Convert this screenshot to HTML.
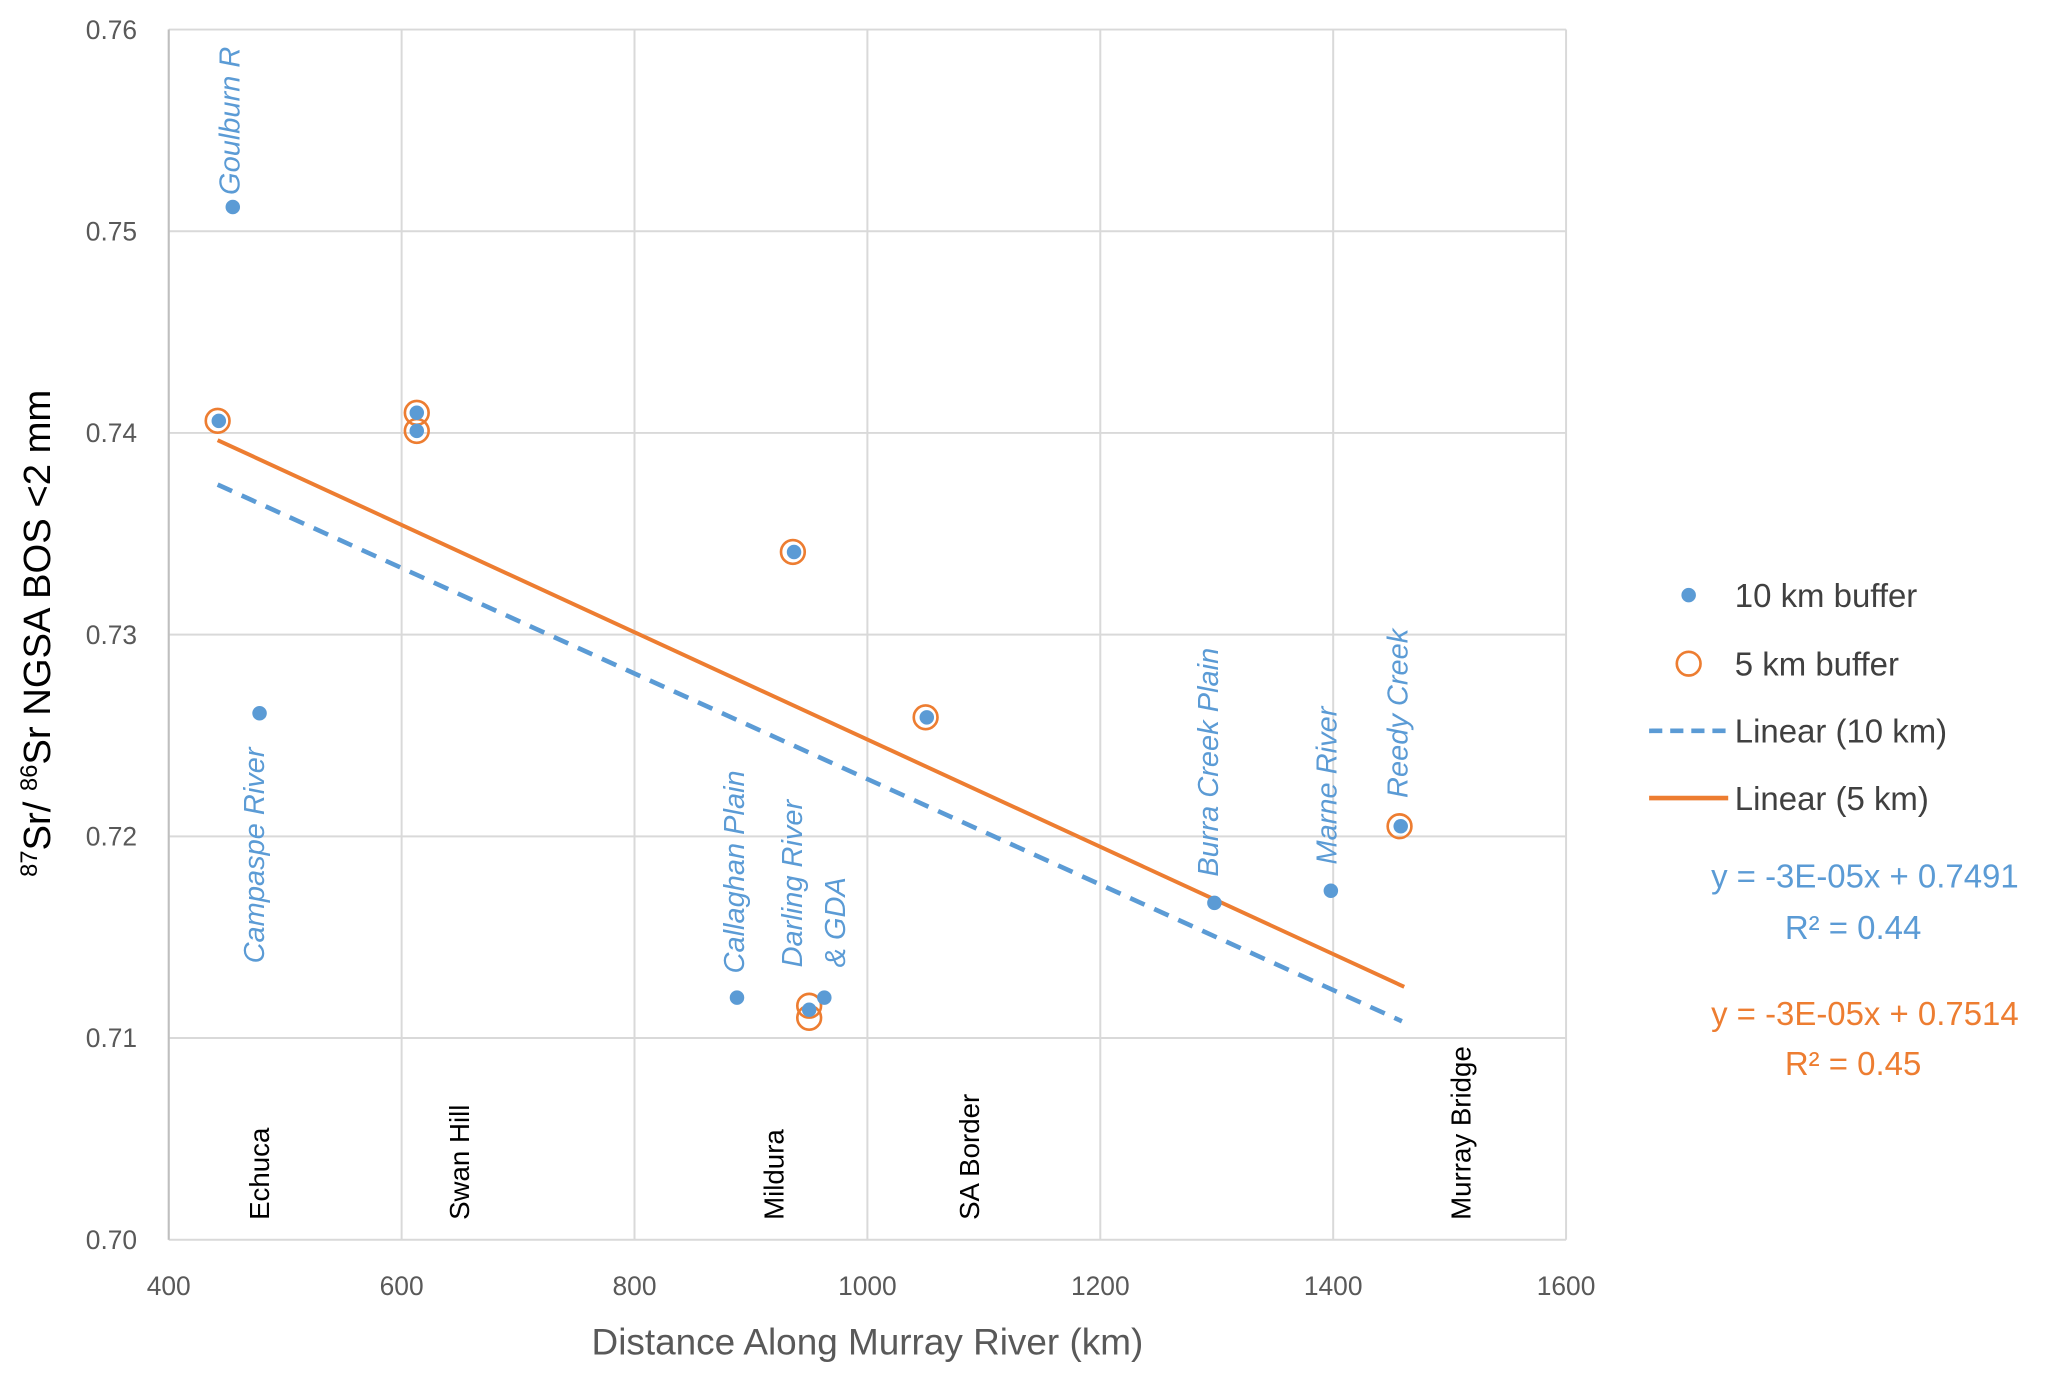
<!DOCTYPE html>
<html><head><meta charset="utf-8"><style>
html,body{margin:0;padding:0;background:#fff}
svg{display:block;font-family:"Liberation Sans","DejaVu Sans",sans-serif}
</style></head><body>
<svg id="chart" width="2067" height="1380" viewBox="0 0 1568 1046" xmlns="http://www.w3.org/2000/svg">
<rect width="1568" height="1046" fill="#fff"/>
<g id="grid"></g>
<g id="ticks" font-size="20" fill="#595959"></g>
<g id="lines"></g>
<g id="pts"></g>
<g id="labels"></g>
<text x="658" y="1027" text-anchor="middle" font-size="28" fill="#595959">Distance Along Murray River (km)</text>
<text transform="translate(38,480) rotate(-90)" text-anchor="middle" font-size="29" fill="#000"><tspan font-size="18" dy="-10">87</tspan><tspan dy="10">Sr/ </tspan><tspan font-size="18" dy="-10">86</tspan><tspan dy="10">Sr NGSA BOS &lt;2 mm</tspan></text>
<g font-size="25" fill="#404040">
<circle cx="1281" cy="451" r="5.5" fill="#5b9bd5"/><text x="1316" y="460">10 km buffer</text>
<circle cx="1281" cy="503" r="9" fill="none" stroke="#ed7d31" stroke-width="2"/><text x="1316" y="512">5 km buffer</text>
<line x1="1251" y1="554" x2="1311" y2="554" stroke="#5b9bd5" stroke-width="3.5" stroke-dasharray="10,6"/><text x="1316" y="563">Linear (10 km)</text>
<line x1="1251" y1="605" x2="1311" y2="605" stroke="#ed7d31" stroke-width="3.5"/><text x="1316" y="614">Linear (5 km)</text>
</g>
<g font-size="25" fill="#5b9bd5"><text x="1298" y="673">y = -3E-05x + 0.7491</text><text x="1354" y="712">R² = 0.44</text></g>
<g font-size="25" fill="#ed7d31"><text x="1298" y="777">y = -3E-05x + 0.7514</text><text x="1354" y="815">R² = 0.45</text></g>
</svg>
<script>
const xTicks=[400,600,800,1000,1200,1400,1600];
const yTicks=[0.70,0.71,0.72,0.73,0.74,0.75,0.76];
const x10=[443,455,478,613,613,937,888,950,963,1051,1298,1398,1458];
const y10=[0.7406,0.7512,0.7261,0.7410,0.7401,0.7341,0.7120,0.7114,0.7120,0.7259,0.7167,0.7173,0.7205];
const x5=[442,613,613,936,950,950,1050,1457];
const y5=[0.7406,0.7410,0.7401,0.7341,0.7116,0.7110,0.7259,0.7205];
const trendX10=[442,1459];
const trend10=[-2.616e-5,0.7490];
const trendX5=[442,1461];
const trend5=[-2.66e-5,0.7514];
const towns=["Echuca","Swan Hill","Mildura","SA Border","Murray Bridge"];
const townX=[478,650,920,1088,1510];
const sites=["Goulburn R","Campaspe River","Callaghan Plain","Darling River","& GDA","Burra Creek Plain","Marne River","Reedy Creek"];
const siteX=[453,474,886,936,973,1293,1395,1456];
const siteY=[0.7518,0.7137,0.7132,0.7135,0.7135,0.7180,0.7186,0.7219];

const X=v=>128+(v-400)*(1060/1200);
const Y=v=>940-(v-0.70)*(918/0.06);
const NS="http://www.w3.org/2000/svg";
function mk(tag,attrs,parent){const e=document.createElementNS(NS,tag);for(const k in attrs)e.setAttribute(k,attrs[k]);document.getElementById(parent).appendChild(e);return e;}
xTicks.forEach(t=>{
 const l=mk('line',{x1:X(t),x2:X(t),y1:Y(0.76),y2:Y(0.70),stroke:'#d9d9d9','stroke-width':1.5},'grid');
 
 
 const tx=mk('text',{x:X(t),y:982,'text-anchor':'middle'},'ticks');tx.textContent=t;
 
 
});
yTicks.forEach(t=>{
 const l=mk('line',{x1:X(400),x2:X(1600),y1:Y(t),y2:Y(t),stroke:'#d9d9d9','stroke-width':1.5},'grid');
 
 
 const tx=mk('text',{x:104,y:Y(t)+7,'text-anchor':'end'},'ticks');tx.textContent=t.toFixed(2);
 
 
});
const a=mk('line',{x1:X(400),x2:X(400),y1:Y(0.76),y2:Y(0.70),stroke:'#bfbfbf','stroke-width':1.5},'grid');


const l10=mk('line',{x1:X(trendX10[0]),y1:Y(trend10[0]*trendX10[0]+trend10[1]),x2:X(trendX10[1]),y2:Y(trend10[0]*trendX10[1]+trend10[1]),stroke:'#5b9bd5','stroke-width':3.5,'stroke-dasharray':'12,8'},'lines');


const l5=mk('line',{x1:X(trendX5[0]),y1:Y(trend5[0]*trendX5[0]+trend5[1]),x2:X(trendX5[1]),y2:Y(trend5[0]*trendX5[1]+trend5[1]),stroke:'#ed7d31','stroke-width':3},'lines');


x5.forEach((v,i)=>{
 const c=mk('circle',{cx:X(v),cy:Y(y5[i]),r:9,fill:'none',stroke:'#ed7d31','stroke-width':2},'pts');
 
 
});
x10.forEach((v,i)=>{
 const c=mk('circle',{cx:X(v),cy:Y(y10[i]),r:5.5,fill:'#5b9bd5'},'pts');
 
 
});
towns.forEach((n,i)=>{
 const px=X(townX[i]);
 const t=mk('text',{transform:`translate(${px+7},925) rotate(-90)`,fill:'#000','font-size':21},'labels');t.textContent=n;
 
 
});
sites.forEach((n,i)=>{
 const px=X(siteX[i]);
 const t=mk('text',{transform:`translate(${px+7},${Y(siteY[i])}) rotate(-90)`,fill:'#5b9bd5','font-style':'italic','font-size':22},'labels');t.textContent=n;
 
 
});
</script>
</body></html>
